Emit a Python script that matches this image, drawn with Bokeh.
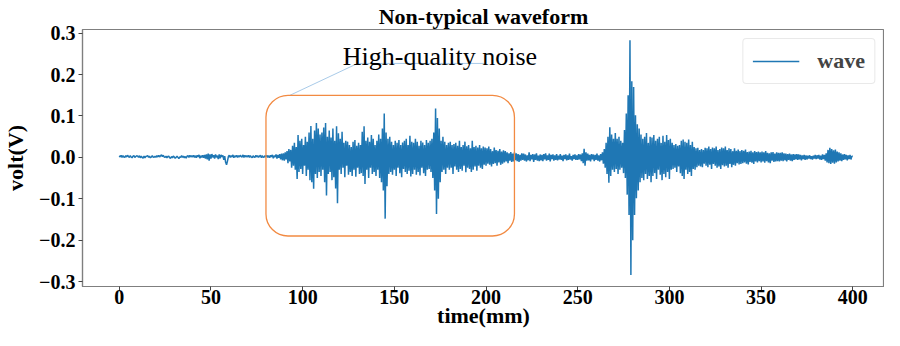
from bokeh.plotting import figure
from bokeh.models import Range1d, FixedTicker, BoxAnnotation
from bokeh.core.properties import value
from bokeh.embed import file_html
from bokeh.resources import INLINE

# ---- data ----
sample_step_mm = 0.5
# waveform in mV, one row per 10 mm (20 samples at 0.5 mm)
wave_mv = [
    4, 1, 5, 0, 4, 1, 0, 4, 1, 5, 2, 0, 4, 1, -1, 3, 4, 0, 2, 4,           # 0-10
    3, 0, 4, -1, 3, 0, -2, 3, -1, 2, 3, 4, 0, 3, -1, 1, 4, 1, 0, 3,        # 10-20
    0, 4, 1, 5, 1, 4, 6, 2, 5, 1, 0, 3, -1, 2, 3, -1, -2, 2, -1, 3,        # 20-30
    1, -2, 0, 3, 0, -3, 1, 0, 4, 0, 3, -1, 2, -2, 3, 4, 0, 5, 1, 4,        # 30-40
    1, 5, 0, 4, -1, 5, 1, 6, -2, 4, 0, 5, -1, 6, -3, 7, -5, 9, -8, 7,      # 40-50
    -3, 8, 0, 5, -3, 7, 0, 4, -4, 7, -2, 6, 1, 5, -6, 3, -12, -18, -9, 2,  # 50-60
    5, 0, 4, 1, 6, -1, 4, 1, 5, 0, 4, 1, 5, 2, 1, 6, 0, 5, 1, 4,           # 60-70
    1, 5, 0, 4, 1, -1, 4, 1, 0, 5, 1, 4, 0, 3, 5, -1, 4, 0, 1, 4,          # 70-80
    1, 5, 0, 4, -1, 5, 1, 6, -2, 4, 1, 7, -3, 6, -1, 8, -5, 9, -7, 10,     # 80-90
    -8, 12, -5, 15, -14, 20, -10, 18, -25, 28, -20, 35, -30, 25, -52, 54, -35, 40, -28, 45,   # 90-100
    -40, 30, -20, 50, -45, 38, -30, 60, -55, 76, -60, 45, -76, 65, -40, 83, -50, 70, -35, 55,  # 100-110
    -45, 60, -30, 72, -60, 83, -92, 50, -40, 65, -35, 48, -55, 70, -48, 40, -75, 75, -111, 58, # 110-120
    -30, 45, -40, 62, -25, 35, -48, 40, -20, 38, -42, 30, -35, 25, -45, 38, -30, 42, -47, 28,  # 120-130
    -25, 35, -40, 30, -38, 62, -45, 75, -64, 40, -30, 48, -50, 38, -25, 54, -40, 45, -35, 30,  # 130-140
    -45, 40, -30, 55, -50, 45, -60, 70, -80, 106, -148, 60, -70, 45, -40, 50, -35, 38, -42, 30, # 140-150
    -30, 40, -45, 35, -25, 42, -38, 30, -48, 36, -28, 40, -35, 45, -40, 30, -32, 52, -46, 38,  # 150-160
    -40, 35, -30, 45, -42, 38, -35, 28, -44, 40, -25, 36, -38, 30, -45, 42, -30, 35, -28, 40,  # 160-170
    -35, 45, -50, 60, -80, 118, -137, 95, -100, 70, -60, 40, -35, 50, -30, 38, -40, 30, -25, 35, # 170-180
    -30, 38, -25, 30, -40, 32, -22, 35, -30, 28, -35, 40, -28, 25, -32, 30, -20, 38, -36, 27,  # 180-190
    -25, 30, -28, 22, -35, 40, -30, 25, -22, 28, -32, 24, -20, 30, -25, 22, -28, 26, -18, 24,  # 190-200
    -20, 22, -15, 26, -18, 20, -22, 15, -16, 24, -14, 18, -20, 16, -12, 20, -18, 14, -15, 17,  # 200-210
    -12, 15, -10, 12, -14, 10, -8, 13, -11, 9, -10, 12, -7, 10, -9, 8, -11, 6, -8, 10,         # 210-220
    -6, 9, -8, 7, -10, 5, -7, 12, -9, 6, -5, 8, -11, 7, -6, 10, -8, 4, -9, 7,                  # 220-230
    -7, 6, -9, 8, -5, 10, -8, 5, -6, 9, -10, 6, -4, 7, -8, 5, -6, 8, -7, 4,                    # 230-240
    -5, 8, -6, 4, -9, 6, -4, 7, -7, 5, -6, 9, -5, 3, -8, 6, -4, 7, -6, 5,                      # 240-250
    -6, 8, -5, 7, -9, 10, -14, 21, -20, 12, -8, 9, -7, 6, -10, 8, -5, 7, -9, 6,                # 250-260
    -6, 9, -8, 5, -10, 8, -7, 12, -15, 20, -25, 35, -40, 50, -61, 73, -45, 55, -30, 45,        # 260-270
    -35, 59, -28, 45, -40, 50, -30, 40, -25, 35, -38, 66, -50, 106, -90, 150, -139, 283, -284, 184, # 270-280
    -200, 170, -139, 102, -99, 80, -80, 70, -60, 55, -50, 45, -55, 50, -40, 59, -52, 35, -45, 50,   # 280-290
    -60, 48, -45, 54, -38, 40, -52, 45, -30, 50, -42, 35, -55, 52, -40, 38, -48, 54, -35, 42,  # 290-300
    -52, 45, -30, 35, -28, 30, -25, 32, -35, 28, -22, 30, -38, 40, -45, 43, -52, 38, -30, 35,  # 300-310
    -40, 43, -35, 30, -45, 38, -28, 25, -30, 22, -24, 23, -20, 18, -22, 20, -24, 18, -15, 23,  # 310-320
    -20, 22, -24, 26, -18, 20, -28, 24, -16, 22, -20, 26, -25, 18, -22, 20, -28, 24, -19, 22,  # 320-330
    -22, 26, -20, 18, -25, 22, -16, 20, -24, 15, -18, 22, -20, 16, -14, 19, -17, 15, -16, 18,  # 330-340
    -14, 16, -12, 19, -15, 13, -17, 14, -11, 16, -13, 12, -16, 15, -10, 13, -12, 14, -9, 12,   # 340-350
    -12, 14, -10, 12, -13, 15, -9, 11, -12, 10, -14, 12, -8, 13, -11, 9, -10, 12, -9, 11,      # 350-360
    -10, 11, -8, 12, -9, 10, -7, 9, -10, 8, -6, 9, -8, 7, -9, 8, -6, 7, -5, 8,                 # 360-370
    -6, 7, -5, 6, -7, 5, -4, 6, -6, 5, -5, 4, -3, 5, -4, 3, -5, 4, -3, 6,                      # 370-380
    -4, 5, -3, 6, -5, 4, -6, 7, -4, 6, -8, 10, -12, 18, -14, 23, -16, 20, -13, 17,             # 380-390
    -15, 19, -12, 14, -10, 12, -8, 10, -9, 7, -6, 8, -5, 6, -7, 5, -4, 6, -5, 3,               # 390-400
    2,
]
time_mm = [i * sample_step_mm for i in range(len(wave_mv))]
volt = [v / 1000.0 for v in wave_mv]

x_ticks = [0, 50, 100, 150, 200, 250, 300, 350, 400]
y_ticks = [-0.3, -0.2, -0.1, 0.0, 0.1, 0.2, 0.3]
y_tick_labels = ["\u22120.3", "\u22120.2", "\u22120.1", "0.0", "0.1", "0.2", "0.3"]

# ---- figure ----
SERIF = "Liberation Serif"
p = figure(width=884, height=330, output_backend="svg", toolbar_location=None,
           x_range=Range1d(-20.05, 417.3), y_range=Range1d(-0.312, 0.309),
           min_border_left=77, min_border_right=0, min_border_top=24, min_border_bottom=44)
p.title.text = "Non-typical waveform"
p.title.align = "center"
p.title.text_font = SERIF
p.title.text_font_style = "bold"
p.title.text_font_size = "22px"
p.title.text_color = "black"
p.title.standoff = 2

p.xgrid.visible = False
p.ygrid.visible = False
p.outline_line_color = "#7f7f7f"
p.outline_line_width = 1.2

for ax in (p.xaxis[0], p.yaxis[0]):
    ax.axis_line_color = "#7f7f7f"
    ax.axis_line_width = 1.2
    ax.major_tick_line_color = "#444444"
    ax.major_tick_out = 4
    ax.major_tick_in = 0
    ax.minor_tick_line_color = None
    ax.major_label_text_font = SERIF
    ax.major_label_text_font_style = "bold"
    ax.major_label_text_font_size = "20px"
    ax.major_label_text_color = "black"
    ax.axis_label_text_font = SERIF
    ax.axis_label_text_font_style = "bold"
    ax.axis_label_text_font_size = "22px"
    ax.axis_label_text_color = "black"

p.xaxis.ticker = FixedTicker(ticks=x_ticks)
p.yaxis.ticker = FixedTicker(ticks=y_ticks)
p.yaxis.major_label_overrides = {t: s for t, s in zip(y_ticks, y_tick_labels)}
p.xaxis.axis_label = "time(mm)"
p.yaxis.axis_label = "volt(V)"
p.xaxis.major_label_standoff = -1
p.yaxis.major_label_standoff = 3
p.xaxis.axis_label_standoff = -4
p.yaxis.axis_label_standoff = 8

# waveform
p.line(time_mm, volt, line_color="#1f77b4", line_width=1.5, legend_label="wave")

# rounded highlight box
box = BoxAnnotation(left=80, right=215.5, top=0.15, bottom=-0.19,
                    fill_alpha=0, line_color="#f28a42", line_alpha=1.0, line_width=1.3)
if "border_radius" in BoxAnnotation.properties():
    box.border_radius = 22
p.add_layout(box)

# annotation connector and text
p.line([92.6, 130.0, 199.9], [0.149, 0.227, 0.227], line_color="#a9cbe9", line_width=1)
p.text(x=[121.9], y=[0.2435], text=["High-quality noise"], text_font=value(SERIF),
       text_font_size="26px", text_color="black", text_align="left",
       text_baseline="alphabetic")

leg = p.legend[0]
leg.location = "top_right"
leg.margin = 9
leg.padding = 9
leg.glyph_width = 47
leg.label_standoff = 18
leg.label_text_font = SERIF
leg.label_text_font_style = "bold"
leg.label_text_font_size = "22px"
leg.border_line_color = "#d4d4d4"
leg.border_line_width = 1
if "border_radius" in leg.properties():
    leg.border_radius = 4

open("out.html", "w").write(file_html(p, INLINE))
